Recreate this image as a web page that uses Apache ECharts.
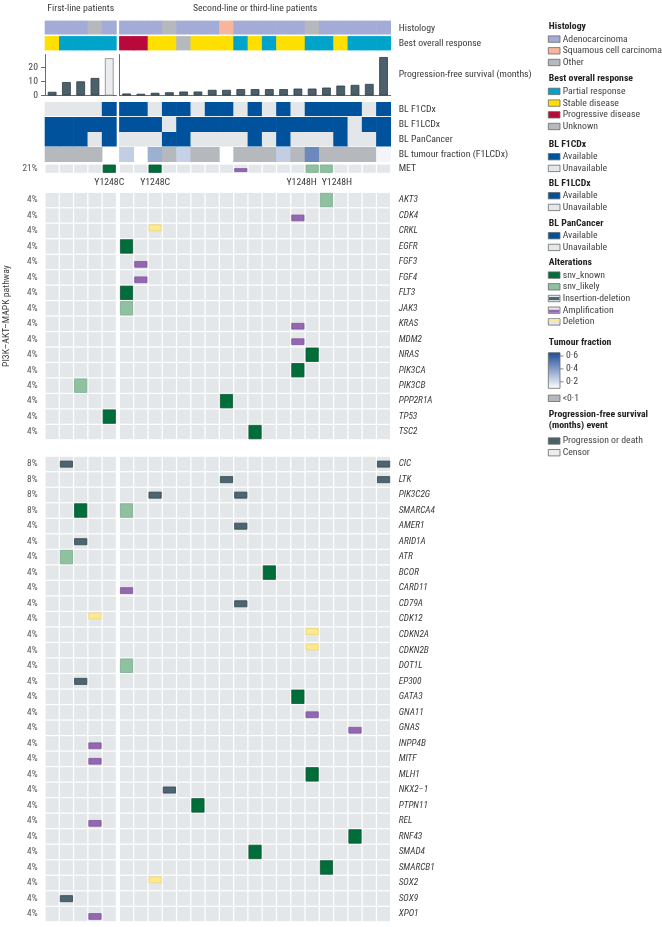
<!DOCTYPE html>
<html><head><meta charset="utf-8">
<script src="https://cdn.jsdelivr.net/npm/echarts@6/dist/echarts.min.js"></script>
<style>html,body{margin:0;padding:0;background:#fff;}#chart{width:662px;height:927px;}</style>
</head><body><div id="chart"></div>
<script>
// ================= DATA =================
const patients = ['P01','P02','P03','P04','P05','P06','P07','P08','P09','P10','P11','P12',
                  'P13','P14','P15','P16','P17','P18','P19','P20','P21','P22','P23','P24'];
const firstLineCount = 5;
const groupTitles = ['First-line patients', 'Second-line or third-line patients'];

const annotRows = ['Histology', 'Best overall response'];
const histology = ['Adeno','Adeno','Adeno','Other','Adeno',
  'Adeno','Adeno','Adeno','Other','Adeno','Adeno','Adeno','Squamous','Adeno','Adeno','Adeno','Adeno','Adeno','Other','Adeno','Adeno','Adeno','Adeno','Adeno'];
const bestResponse = ['SD','PR','PR','PR','PR',
  'PD','PD','SD','SD','UNK','SD','SD','SD','PR','SD','PR','SD','SD','PR','PR','SD','PR','PR','PR'];

const pfsLabel = 'Progression-free survival (months)';
const pfsMonths = [2.6, 9.5, 10.0, 12.4, 26.4,
  1.4, 1.2, 1.9, 2.3, 2.8, 2.8, 4.0, 4.0, 4.5, 4.5, 4.5, 4.5, 4.9, 4.9, 5.6, 7.0, 7.5, 8.2, 27.2];
const pfsEvent = ['P','P','P','P','C',
  'P','P','P','P','P','P','P','P','P','P','P','P','P','P','P','P','P','P','P'];
const pfsTicks = [0, 10, 20];

const blRows = ['BL F1CDx', 'BL F1LCDx', 'BL PanCancer', 'BL tumour fraction (F1LCDx)'];
const blF1CDx     = [0,0,0,0,1, 1,1,0,1,1,0,1,1,0,1,0,1,0,1,1,1,1,0,1];
const blF1LCDx    = [1,1,1,1,1, 1,1,1,0,1,1,1,1,1,1,1,1,1,1,1,1,0,1,1];
const blPanCancer = [1,1,1,0,1, 0,0,0,1,1,0,0,0,0,1,0,1,0,0,0,1,0,0,1];
const tumourFraction = ['<0.1','<0.1','<0.1','<0.1',null,
  0.25,null,0.34,'<0.1',0.24,'<0.1','<0.1',null,'<0.1','<0.1','<0.1',0.25,'<0.1',0.46,'<0.1','<0.1','<0.1','<0.1',0.13];

const metRow = ['MET'];
// [patient index, alteration, protein change]
const metAlterations = [[4,'snv_known','Y1248C'],[7,'snv_known','Y1248C'],[13,'amplification',''],
  [18,'snv_likely','Y1248H'],[19,'snv_likely','Y1248H']];

const pathwayName = 'PI3K–AKT–MAPK pathway';
const genesPathway = ['AKT3','CDK4','CRKL','EGFR','FGF3','FGF4','FLT3','JAK3','KRAS','MDM2','NRAS',
  'PIK3CA','PIK3CB','PPP2R1A','TP53','TSC2'];
const genesOther = ['CIC','LTK','PIK3C2G','SMARCA4','AMER1','ARID1A','ATR','BCOR','CARD11','CD79A',
  'CDK12','CDKN2A','CDKN2B','DOT1L','EP300','GATA3','GNA11','GNAS','INPP4B','MITF','MLH1','NKX2–1',
  'PTPN11','REL','RNF43','SMAD4','SMARCB1','SOX2','SOX9','XPO1'];
// [gene, patient index, alteration]
const alterations = [
  ['AKT3',19,'snv_likely'],['CDK4',17,'amplification'],['CRKL',7,'deletion'],['EGFR',5,'snv_known'],
  ['FGF3',6,'amplification'],['FGF4',6,'amplification'],['FLT3',5,'snv_known'],['JAK3',5,'snv_likely'],
  ['KRAS',17,'amplification'],['MDM2',17,'amplification'],['NRAS',18,'snv_known'],['PIK3CA',17,'snv_known'],
  ['PIK3CB',2,'snv_likely'],['PPP2R1A',12,'snv_known'],['TP53',4,'snv_known'],['TSC2',14,'snv_known'],
  ['CIC',1,'indel'],['CIC',23,'indel'],['LTK',12,'indel'],['LTK',23,'indel'],
  ['PIK3C2G',7,'indel'],['PIK3C2G',13,'indel'],['SMARCA4',2,'snv_known'],['SMARCA4',5,'snv_likely'],
  ['AMER1',13,'indel'],['ARID1A',2,'indel'],['ATR',1,'snv_likely'],['BCOR',15,'snv_known'],
  ['CARD11',5,'amplification'],['CD79A',13,'indel'],['CDK12',3,'deletion'],['CDKN2A',18,'deletion'],
  ['CDKN2B',18,'deletion'],['DOT1L',5,'snv_likely'],['EP300',2,'indel'],['GATA3',17,'snv_known'],
  ['GNA11',18,'amplification'],['GNAS',21,'amplification'],['INPP4B',3,'amplification'],
  ['MITF',3,'amplification'],['MLH1',18,'snv_known'],['NKX2–1',8,'indel'],['PTPN11',10,'snv_known'],
  ['REL',3,'amplification'],['RNF43',21,'snv_known'],['SMAD4',14,'snv_known'],['SMARCB1',19,'snv_known'],
  ['SOX2',7,'deletion'],['SOX9',1,'indel'],['XPO1',3,'amplification']
];

// legend content
const histologyLegend = [['Adeno','Adenocarcinoma'],['Squamous','Squamous cell carcinoma'],['Other','Other']];
const responseLegend = [['PR','Partial response'],['SD','Stable disease'],['PD','Progressive disease'],['UNK','Unknown']];
const availabilityLegend = [[1,'Available'],[0,'Unavailable']];
const alterationLegend = [['snv_known','snv_known'],['snv_likely','snv_likely'],['indel','Insertion-deletion'],
  ['amplification','Amplification'],['deletion','Deletion']];
const tfLegendTicks = [0.6, 0.4, 0.2];
const tfLowLabel = '<0·1';
const pfsEventLegend = [['P','Progression or death'],['C','Censor']];

// ================= FONT (pick an installed narrow face and scale to the reference width) =================
function pickFont() {
  const cands = ['Liberation Sans Narrow','Arial Narrow','Roboto Condensed','Noto Sans Condensed',
                 'Open Sans Condensed','DejaVu Sans Condensed','Liberation Sans'];
  const ctx = document.createElement('canvas').getContext('2d');
  const s = 'Progression-free survival (months)';
  ctx.font = '20px monospace'; const base = ctx.measureText(s).width;
  for (const f of cands) {
    ctx.font = '20px "' + f + '", monospace';
    const w = ctx.measureText(s).width;
    if (Math.abs(w - base) > 0.5) return {family:'"' + f + '",sans-serif', w10: w / 2};
  }
  ctx.font = '20px sans-serif';
  return {family:'sans-serif', w10: ctx.measureText(s).width / 2};
}
const PF = pickFont();
const FONT = PF.family;
const K = Math.min(1.05, 133 / (PF.w10 * 1.05));   // reference string is ~133 px wide at nominal 10.5 px
const fs = n => +(n * K).toFixed(2);

// ================= STYLE =================
const TEXT = '#3a3a3a';
const C = {
  hist: {Adeno:'#a3acd7', Squamous:'#f7b59c', Other:'#b5b9bd'},
  bor: {PR:'#00a3c9', SD:'#ffdf00', PD:'#b8083c', UNK:'#b5b9bd'},
  avail: ['#e4e7ea', '#00529c'],
  bg: '#e4e7ea',
  tfLow: '#b5b9bd', tfFrom: [255,255,255], tfTo: [29,74,152], tfMin: 0.1, tfMax: 0.65,
  alt: {
    snv_known:{fill:'#006d3a', stroke:'#0d5a33'},
    snv_likely:{fill:'#8fc1a1', stroke:'#7eb090'},
    indel:{fill:'#4d6570', stroke:'#35494f'},
    amplification:{fill:'#9467b0', stroke:'#7f56a0'},
    deletion:{fill:'#fde990', stroke:'#ecd577'}
  },
  pfs: {P:{color:'#4b606a', borderColor:'#2e3d44', borderWidth:0.8},
        C:{color:'#eaecee', borderColor:'#80868b', borderWidth:0.8}}
};
const markBand = {amplification:[0.44,0.9], deletion:[0.04,0.51], indel:[0.27,0.75]};
const COLS = [{left:45, width:71.4}, {left:119.4, width:271.3}];
const BLOCKS = [
  {key:'annot', top:20.6, height:31},
  {key:'pfs', top:54.5, height:41},
  {key:'bl', top:102, height:60},
  {key:'met', top:164, height:9.4},
  {key:'g1', top:192.3, height:247.5},
  {key:'g2', top:456.2, height:465.6}
];

function tfColor(v) {
  if (v === null) return null;
  if (typeof v === 'string') return C.tfLow;
  let r = (v - C.tfMin) / (C.tfMax - C.tfMin); r = Math.max(0, Math.min(1, r));
  const c = C.tfFrom.map((a,i)=>Math.round(a + (C.tfTo[i]-a)*r));
  return 'rgb(' + c.join(',') + ')';
}

// ================= BUILD =================
const range = (a,b)=>Array.from({length:b-a},(_,i)=>a+i);
const groupIdx = [range(0, firstLineCount), range(firstLineCount, patients.length)];
const nPat = patients.length;
const countBy = {};
alterations.forEach(a=>{ countBy[a[0]] = (countBy[a[0]]||0)+1; });
countBy['MET'] = metAlterations.length;
const pct = g => Math.round((countBy[g]||0)/nPat*100) + '%';

const option = {animation:false, textStyle:{fontFamily:FONT}, grid:[], xAxis:[], yAxis:[], series:[], graphic:[]};
const hidden = () => ({axisLine:{show:false}, axisTick:{show:false}, axisLabel:{show:false}, splitLine:{show:false}});

BLOCKS.forEach((b,bi)=>[0,1].forEach(g=>{
  option.grid.push({left:COLS[g].left, width:COLS[g].width, top:b.top, height:b.height, outerBoundsMode:'none'});
  const xa = Object.assign({gridIndex:bi*2+g, type:'category', data:groupIdx[g].map(i=>patients[i])}, hidden());
  if (b.key==='annot') Object.assign(xa, {position:'top', name:groupTitles[g], nameLocation:'middle', nameGap:7,
      nameTextStyle:{fontSize:fs(10.5), color:TEXT, fontFamily:FONT}});
  if (b.key==='pfs') xa.axisLine = {show:true, onZero:false, lineStyle:{color:'#6b6b6b', width:1}};
  option.xAxis.push(xa);
}));

const rightLabel = (n, italic) => ({show:true, margin:8, fontSize:fs(n), color:TEXT, fontFamily:FONT, fontStyle: italic?'italic':'normal'});
const leftPct = {show:true, margin:7.5, fontSize:fs(10), color:'#555', fontFamily:FONT, formatter: v=>pct(v)};
const yIdx = {};
function addY(key, g, ax) { option.yAxis.push(ax); yIdx[key+g] = option.yAxis.length-1; }
function catY(gi, rows, pos, label) {
  return Object.assign({gridIndex:gi, type:'category', data:rows, inverse:true, position:pos},
    hidden(), label ? {axisLabel:label} : {});
}
addY('annot',0, catY(0, annotRows, 'left'));
addY('annot',1, catY(1, annotRows, 'right', rightLabel(10.5)));
addY('pfs',0, {gridIndex:2, type:'value', min:0, max:29, position:'left',
  axisLine:{show:true, lineStyle:{color:'#6b6b6b', width:1}},
  axisTick:{show:true, length:4, customValues:pfsTicks, lineStyle:{color:'#6b6b6b'}},
  axisLabel:{show:true, customValues:pfsTicks, margin:7, fontSize:fs(10.5), color:'#444', fontFamily:FONT},
  splitLine:{show:false}});
addY('pfs',1, {gridIndex:3, type:'value', min:0, max:29, position:'left',
  axisLine:{show:true, lineStyle:{color:'#6b6b6b', width:1}}, axisTick:{show:false}, axisLabel:{show:false}, splitLine:{show:false}});
addY('pfsLab',1, catY(3, [pfsLabel], 'right', rightLabel(10.5)));
addY('bl',0, catY(4, blRows, 'left'));
addY('bl',1, catY(5, blRows, 'right', rightLabel(10.5)));
addY('met',0, catY(6, metRow, 'left', leftPct));
addY('met',1, catY(7, metRow, 'right', rightLabel(10.5)));
const g1L = catY(8, genesPathway, 'left', leftPct);
Object.assign(g1L, {name:pathwayName, nameLocation:'middle', nameRotate:90, nameGap:33,
  nameTextStyle:{fontSize:fs(10.5), color:TEXT, fontFamily:FONT}});
addY('g1',0, g1L);
addY('g1',1, catY(9, genesPathway, 'right', rightLabel(10, true)));
addY('g2',0, catY(10, genesOther, 'left', leftPct));
addY('g2',1, catY(11, genesOther, 'right', rightLabel(10, true)));

function blockSeries(bi, key, g, rowFns, vGaps) {
  const cells = [];
  groupIdx[g].forEach((p,local)=>rowFns.forEach((fn,r)=>{ const col = fn(p); if (col) cells.push({x:local, y:r, color:col}); }));
  return {type:'custom', xAxisIndex:bi*2+g, yAxisIndex:yIdx[key+g], clip:false,
    data: cells.map(c=>[c.x, c.y]),
    renderItem:(params, api)=>{
      const c = cells[params.dataIndex];
      const pt = api.coord([api.value(0), api.value(1)]); const sz = api.size([1,1]);
      const gap = vGaps[api.value(1)];
      return {type:'rect', shape:{x:pt[0]-sz[0]/2-0.3, y:pt[1]-sz[1]/2, width:sz[0]+0.6, height:sz[1]-gap},
        style:{fill:c.color}};
    }};
}
const annotFns = [p=>C.hist[histology[p]], p=>C.bor[bestResponse[p]]];
const blFns = [p=>C.avail[blF1CDx[p]], p=>C.avail[blF1LCDx[p]], p=>C.avail[blPanCancer[p]], p=>tfColor(tumourFraction[p])];
[0,1].forEach(g=>{
  option.series.push(blockSeries(0, 'annot', g, annotFns, [1.6, 1.2]));
  option.series.push(blockSeries(2, 'bl', g, blFns, [0.9, 0, 0.5, 0]));
});

[0,1].forEach(g=>{
  option.series.push({type:'bar', xAxisIndex:2+g, yAxisIndex:yIdx['pfs'+g], barWidth:'61%',
    data: groupIdx[g].map(p=>({value:pfsMonths[p], itemStyle:C.pfs[pfsEvent[p]]}))});
});

function altSeries(bi, key, g, rows, alts) {
  const cells = [];
  groupIdx[g].forEach((p,local)=>rows.forEach((gene,r)=>{
    const a = alts.find(x=>x.gene===gene && x.p===p);
    cells.push({x:local, y:r, alt:a?a.type:null, label:a?a.label:'', p:p});
  }));
  return {type:'custom', xAxisIndex:bi*2+g, yAxisIndex:yIdx[key+g], clip:false,
    data: cells.map(c=>[c.x, c.y]),
    renderItem:(params, api)=>{
      const c = cells[params.dataIndex];
      const pt = api.coord([api.value(0), api.value(1)]); const sz = api.size([1,1]);
      const x0 = pt[0]-sz[0]/2+0.6, w = sz[0]-1.2, y0 = pt[1]-sz[1]/2+0.6, h = sz[1]-1.2;
      const ch = [{type:'rect', shape:{x:x0, y:y0, width:w, height:h}, style:{fill:C.bg}}];
      if (c.alt) {
        const st = C.alt[c.alt];
        const band = markBand[c.alt] || [0,1];
        ch.push({type:'rect', shape:{x:x0+0.4, y:y0+h*band[0]+0.4, width:w-0.8, height:h*(band[1]-band[0])-0.8},
          style:{fill:st.fill, stroke:st.stroke, lineWidth:0.8}});
      }
      if (c.label) {
        const left = alts.some(x=>x.label && x.p===c.p-1), right = alts.some(x=>x.label && x.p===c.p+1);
        const dx = right ? -10.5 : (left ? 10.5 : 0);
        ch.push({type:'text', style:{text:c.label, x:pt[0]+dx, y:pt[1]+14.3, textAlign:'center', align:'center',
          textVerticalAlign:'middle', verticalAlign:'middle', fill:TEXT, fontSize:fs(10.5), fontFamily:FONT}});
      }
      return {type:'group', children:ch};
    }};
}
const metAlts = metAlterations.map(a=>({gene:'MET', p:a[0], type:a[1], label:a[2]}));
const geneAlts = alterations.map(a=>({gene:a[0], p:a[1], type:a[2], label:''}));
[0,1].forEach(g=>{
  option.series.push(altSeries(3, 'met', g, metRow, metAlts));
  option.series.push(altSeries(4, 'g1', g, genesPathway, geneAlts));
  option.series.push(altSeries(5, 'g2', g, genesOther, geneAlts));
});

// ================= LEGEND (graphic) =================
const LX = 548.3, LT = 562.7, SW = 11.7, SH = 6.4, ISTEP = 11.7, IFIRST = 12.4;
const G = option.graphic;
function txt(t, x, y, bold, n) {
  G.push({type:'text', silent:true, style:{text:t, x:x, y:y, fill: bold?'#222':'#444', fontSize:fs(n||10.5),
    fontWeight: bold?'bold':'normal', fontFamily:FONT, textVerticalAlign:'middle', verticalAlign:'middle'}});
}
function sw(y, fill, extra) {
  G.push({type:'rect', silent:true, shape:{x:LX, y:y-SH/2, width:SW, height:SH},
    style:{fill:fill, stroke:'#6a6a6a', lineWidth:0.8}});
  if (extra) G.push(extra);
}
function section(title, y, items) {
  txt(title, LX+0.5, y, true);
  items.forEach((it,i)=>{ const yy = y + IFIRST + i*ISTEP; sw(yy, it.fill, it.extra ? it.extra(yy) : null); txt(it.name, LT, yy); });
}
section('Histology', 26.7, histologyLegend.map(d=>({name:d[1], fill:C.hist[d[0]]})));
section('Best overall response', 79, responseLegend.map(d=>({name:d[1], fill:C.bor[d[0]]})));
section('BL F1CDx', 144.3, availabilityLegend.map(d=>({name:d[1], fill:C.avail[d[0]]})));
section('BL F1LCDx', 183.3, availabilityLegend.map(d=>({name:d[1], fill:C.avail[d[0]]})));
section('BL PanCancer', 223.3, availabilityLegend.map(d=>({name:d[1], fill:C.avail[d[0]]})));
section('Alterations', 262.7, alterationLegend.map(d=>{
  const st = C.alt[d[0]], band = markBand[d[0]];
  if (!band) return {name:d[1], fill:st.fill};
  return {name:d[1], fill:C.bg, extra: yy=>({type:'rect', silent:true,
    shape:{x:LX+0.6, y:yy-SH/2+SH*band[0], width:SW-1.2, height:SH*(band[1]-band[0])}, style:{fill:st.fill}})};
}));
txt('Tumour fraction', LX+0.5, 342.3, true);
const cbTop = 352.7, cbBot = 388.3;
G.push({type:'rect', silent:true, shape:{x:LX, y:cbTop, width:SW, height:cbBot-cbTop},
  style:{stroke:'#6a6a6a', lineWidth:0.8, fill:{type:'linear', x:0, y:1, x2:0, y2:0,
    colorStops:[{offset:0, color:'rgb('+C.tfFrom.join(',')+')'}, {offset:1, color:'rgb('+C.tfTo.join(',')+')'}]}}});
tfLegendTicks.forEach(v=>{
  const yy = cbBot - (v - C.tfMin)/(C.tfMax - C.tfMin)*(cbBot-cbTop);
  G.push({type:'line', silent:true, shape:{x1:LX+SW, y1:yy, x2:LX+SW+3.5, y2:yy}, style:{stroke:'#6a6a6a', lineWidth:0.8}});
  txt(String(v).replace('.','·'), LX+SW+6, yy);
});
sw(398.3, C.tfLow); txt(tfLowLabel, LT, 398.3);
txt('Progression-free survival', LX+0.5, 414.3, true);
txt('(months) event', LX+0.5, 426, true);
pfsEventLegend.forEach((d,i)=>{ const yy = 441 + i*ISTEP; sw(yy, C.pfs[d[0]].color); txt(d[1], LT, yy); });

const chart = echarts.init(document.getElementById('chart'), null, {renderer:'canvas'});
chart.setOption(option);
</script>
</body></html>
